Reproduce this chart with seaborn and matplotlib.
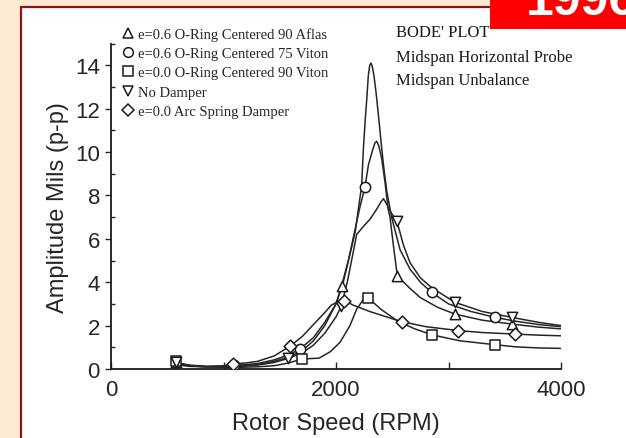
import numpy as np
import pandas as pd
import seaborn as sns
import matplotlib.pyplot as plt
from matplotlib.lines import Line2D
from matplotlib.patches import Rectangle

# curves (rpm, amplitude mils p-p)
circ_x = [570, 700, 850, 1000, 1150, 1300, 1450, 1580, 1680, 1800, 1900, 2000, 2060, 2120, 2170,
          2228, 2243, 2260, 2273, 2287, 2300, 2311, 2322, 2338, 2357, 2377, 2400, 2422, 2451, 2494,
          2569, 2658, 2750, 2850, 3000, 3200, 3413, 3600, 3800, 4000]
circ_y = [0.25, 0.15, 0.12, 0.13, 0.18, 0.25, 0.42, 0.65, 0.92, 1.45, 2.15, 3.0, 3.9, 5.2, 6.3,
          8.45, 10.1, 11.5, 12.4, 13.5, 14.0, 14.1, 13.95, 13.5, 12.7, 11.7, 10.5, 9.4, 8.2, 7.0,
          5.5, 4.6, 4.0, 3.53, 3.0, 2.65, 2.38, 2.2, 2.05, 1.95]

tri_x = [570, 700, 850, 1000, 1150, 1300, 1450, 1580, 1700, 1800, 1900, 2000, 2050, 2110, 2160,
         2210, 2258, 2288, 2326, 2345, 2361, 2380, 2406, 2436, 2462, 2480, 2510, 2545, 2650, 2747,
         2900, 3058, 3300, 3565, 3800, 4000]
tri_y = [0.3, 0.18, 0.12, 0.12, 0.15, 0.2, 0.35, 0.55, 0.85, 1.3, 2.0, 3.0, 3.84, 5.0, 6.2,
         7.4, 8.4, 9.4, 10.1, 10.4, 10.5, 10.3, 9.7, 8.6, 7.4, 7.0, 5.7, 4.3, 3.75, 3.3,
         2.85, 2.53, 2.25, 2.07, 1.93, 1.85]

nab_x = [570, 700, 850, 1000, 1150, 1300, 1450, 1576, 1700, 1800, 1900, 2000, 2047, 2100, 2150,
         2184, 2240, 2302, 2360, 2400, 2422, 2450, 2490, 2540, 2600, 2658, 2750, 2850, 3058, 3300,
         3562, 3800, 4000]
nab_y = [0.3, 0.15, 0.1, 0.1, 0.12, 0.18, 0.3, 0.49, 0.75, 1.1, 1.65, 2.4, 2.9, 4.0, 5.3,
         6.2, 6.55, 6.9, 7.35, 7.7, 7.85, 7.6, 7.2, 6.84, 5.7, 4.9, 4.2, 3.75, 3.07, 2.65,
         2.38, 2.15, 2.0]

sq_x = [570, 700, 850, 1000, 1150, 1300, 1450, 1580, 1695, 1850, 1950, 2036, 2124, 2184, 2243,
        2287, 2400, 2550, 2700, 2857, 3100, 3413, 3600, 3800, 4000]
sq_y = [0.3, 0.15, 0.1, 0.08, 0.08, 0.1, 0.15, 0.28, 0.46, 0.5, 0.8, 1.23, 2.0, 2.76, 3.2,
        3.27, 2.75, 2.2, 1.85, 1.57, 1.3, 1.12, 1.02, 0.97, 0.95]

dia_x = [570, 700, 850, 1000, 1087, 1200, 1300, 1450, 1591, 1700, 1800, 1900, 1960, 2020, 2075,
         2150, 2300, 2450, 2583, 2800, 3087, 3300, 3591, 3800, 4000]
dia_y = [0.2, 0.12, 0.1, 0.15, 0.23, 0.28, 0.35, 0.6, 1.05, 1.5, 2.05, 2.6, 2.95, 3.1, 3.15,
         2.95, 2.65, 2.4, 2.18, 1.95, 1.77, 1.68, 1.61, 1.56, 1.53]

# measured points (markers)
tri_mx = [580, 2050, 2545, 3058, 3565]
tri_my = [0.3, 3.84, 4.3, 2.53, 2.07]
circ_mx = [1090, 1680, 2262, 2850, 3413]
circ_my = [0.2, 0.92, 8.4, 3.53, 2.38]
sq_mx = [575, 1695, 2287, 2857, 3413]
sq_my = [0.35, 0.46, 3.27, 1.57, 1.12]
nab_mx = [580, 1576, 2047, 2540, 3058, 3562]
nab_my = [0.3, 0.49, 2.9, 6.84, 3.07, 2.38]
dia_mx = [1087, 1591, 2075, 2583, 3087, 3591]
dia_my = [0.23, 1.05, 3.15, 2.18, 1.77, 1.61]

labels = ["e=0.6 O-Ring Centered 90 Aflas",
          "e=0.6 O-Ring Centered 75 Viton",
          "e=0.0 O-Ring Centered 90 Viton",
          "No Damper",
          "e=0.0 Arc Spring Damper"]
markers = ["^", "o", "s", "v", "D"]

sns.set_style("ticks")
plt.rcParams['font.family'] = ['Liberation Sans', 'DejaVu Sans']

fig = plt.figure(figsize=(6.26, 4.39), dpi=100)
fig.patch.set_facecolor("#fbebd2")

# white slide panel with dark red border
fig.add_artist(Rectangle((21 / 626, -0.05), 1.0, 1 - 8 / 439 + 0.05, transform=fig.transFigure,
                         facecolor="white", edgecolor="#8b1414", linewidth=1.6, zorder=0))
# red year box
fig.add_artist(Rectangle((490 / 626, 1 - 30 / 439), 0.3, 0.1, transform=fig.transFigure,
                         facecolor="#ff0000", edgecolor="none", zorder=1))
fig.text(526 / 626, 1 - 15 / 439, "1996", color="white", fontsize=36, fontweight="bold",
         va="baseline", ha="left", zorder=2)

ax = fig.add_axes([111 / 626, (439 - 370) / 439, 450 / 626, 325.5 / 439])
ax.set_facecolor("none")

curves = [(tri_x, tri_y), (circ_x, circ_y), (sq_x, sq_y), (nab_x, nab_y), (dia_x, dia_y)]
points = [(tri_mx, tri_my), (circ_mx, circ_my), (sq_mx, sq_my), (nab_mx, nab_my), (dia_mx, dia_my)]

for (cx, cy) in curves:
    sns.lineplot(x=cx, y=cy, ax=ax, color="#262626", linewidth=1.1, estimator=None, sort=False)
for (mx, my), m in zip(points, markers):
    ms = 42 if m == "D" else 55
    sns.scatterplot(x=mx, y=my, ax=ax, marker=m, s=ms, color="white", edgecolor="#1a1a1a",
                    linewidth=1.1, zorder=4)

ax.set_xlim(0, 4000)
ax.set_ylim(0, 15)
ax.set_xticks([0, 2000, 4000])
ax.set_xticks([1000, 3000], minor=True)
ax.set_yticks(np.arange(0, 15, 2))
ax.set_yticks(np.arange(1, 16, 2), minor=True)
ax.tick_params(axis="x", which="both", direction="in", length=5, width=1, labelsize=16, pad=7)
ax.tick_params(axis="y", which="major", direction="out", length=4, width=1, labelsize=16, pad=4)
ax.tick_params(axis="y", which="minor", direction="in", length=3, width=1)
for s in ["top", "right"]:
    ax.spines[s].set_visible(False)
for s in ["left", "bottom"]:
    ax.spines[s].set_color("#1a1a1a")
    ax.spines[s].set_linewidth(1.3)

ax.set_xlabel("Rotor Speed (RPM)", fontsize=17, labelpad=9)
ax.set_ylabel("Amplitude Mils (p-p)", fontsize=17, labelpad=4)

handles = [Line2D([], [], marker=m, linestyle="none", markersize=7 if m != "D" else 6,
                  markerfacecolor="white", markeredgecolor="#1a1a1a", markeredgewidth=1.1)
           for m in markers]
ax.legend(handles, labels, loc="upper left", bbox_to_anchor=(122 / 626, 1 - 28 / 439),
          bbox_transform=fig.transFigure, frameon=False, handlelength=0.8, handletextpad=0.3,
          labelspacing=0.42, borderpad=0, borderaxespad=0,
          prop={"family": ["Liberation Serif", "DejaVu Serif"], "size": 10.5})

for txt, ypx in [("BODE' PLOT", 33), ("Midspan Horizontal Probe", 58), ("Midspan Unbalance", 81)]:
    fig.text(396 / 626, 1 - ypx / 439, txt, fontsize=12, va="center", ha="left",
             family=["Liberation Serif", "DejaVu Serif"], color="#1a1a1a", zorder=0.5)

fig.savefig("out.png", dpi=100, facecolor=fig.get_facecolor())
